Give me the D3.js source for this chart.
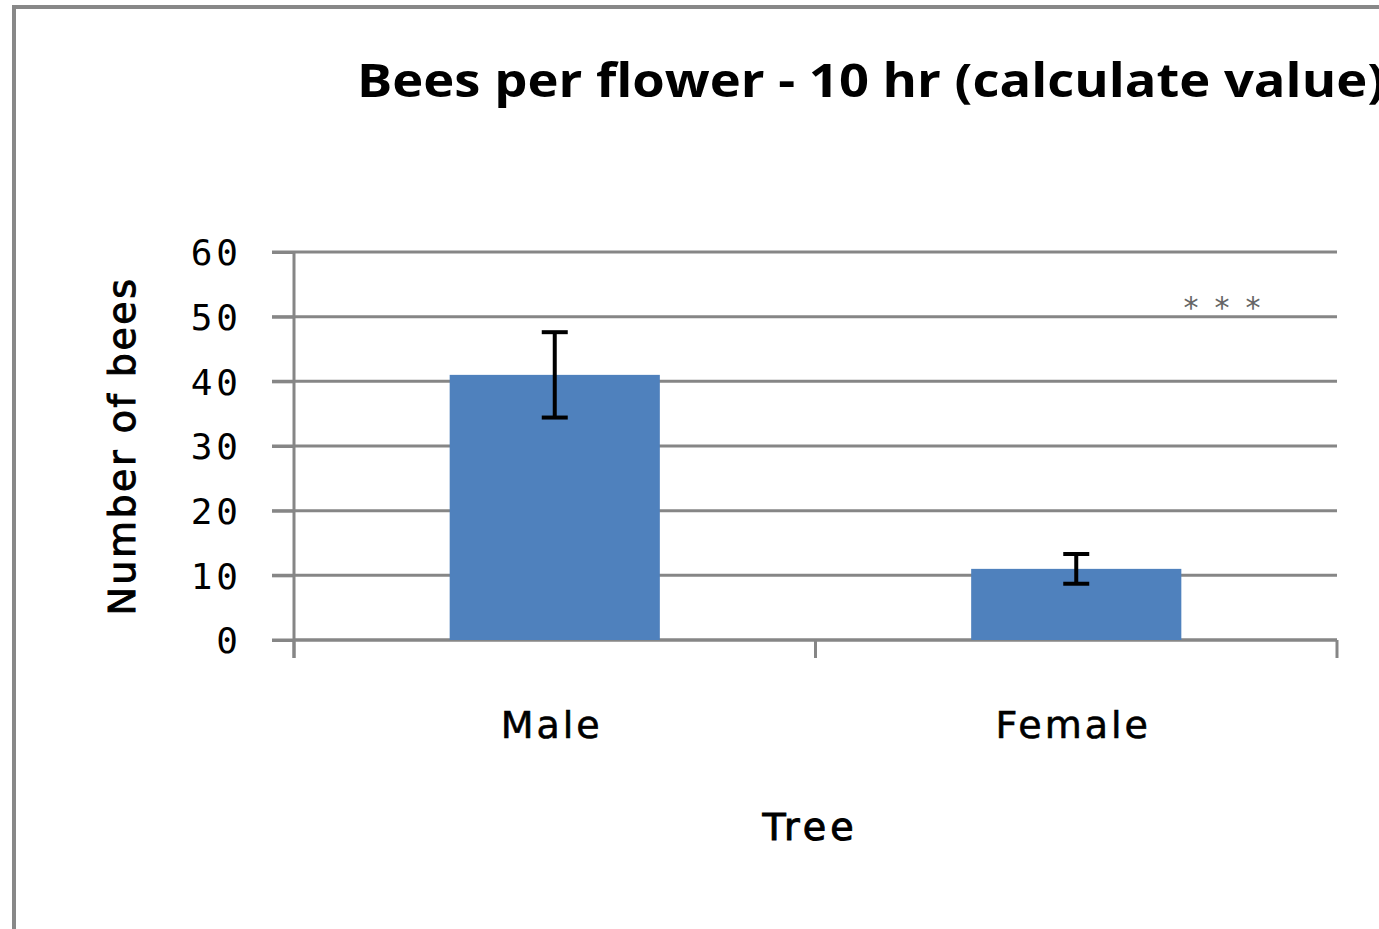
<!DOCTYPE html>
<html><head><meta charset="utf-8">
<script src="https://cdn.jsdelivr.net/npm/d3@7"></script>
<style>body{margin:0;background:#fff;} svg{display:block;}</style>
</head><body>
<svg id="chart" width="1379" height="929"></svg>
<script>
const categories = ["Male", "Female"];
const values = [41, 11];
const errors = [6.6, 2.3];
const yTicks = [0, 10, 20, 30, 40, 50, 60];
const title = "Bees per flower - 10 hr (calculate value)";
const xTitle = "Tree";
const yTitle = "Number of bees";
const annotation = "***";

(function () {
const svg = d3.select("#chart");
const W = 1379, H = 929;
svg.append("rect").attr("width", W).attr("height", H).attr("fill", "#fff");
// chart border
svg.append("rect").attr("x", 14).attr("y", 7).attr("width", W + 20).attr("height", H + 20)
  .attr("fill", "none").attr("stroke", "#888").attr("stroke-width", 4);

const pL = 294, pR = 1337, pT = 252, pB = 640;
const x = d3.scaleBand().domain(categories).range([pL, pR]).paddingInner(0.597).paddingOuter(0.2985);
const y = d3.scaleLinear().domain([0, 60]).range([pB, pT]);
const gridColor = "#868686";

// gridlines
svg.append("g").selectAll("line").data(yTicks).join("line")
  .attr("x1", pL - 22).attr("x2", pR)
  .attr("y1", d => y(d)).attr("y2", d => y(d))
  .attr("stroke", gridColor).attr("stroke-width", 3);

// y axis
const yAxis = svg.append("g").attr("transform", `translate(${pL},0)`)
  .call(d3.axisLeft(y).tickValues(yTicks).tickSize(22).tickPadding(30));
yAxis.select(".domain").attr("stroke", gridColor).attr("stroke-width", 3).attr("d", `M0,${pT}V${pB + 18}`);
yAxis.selectAll(".tick line").attr("stroke", gridColor).attr("stroke-width", 3);
yAxis.selectAll(".tick text").attr("font-family", "DejaVu Sans Mono").attr("font-size", 36)
  .attr("fill", "#000").attr("dy", "0.36em").attr("letter-spacing", 4);

// x axis
const bandEdges = [pL, ...categories.map((c, i) => pL + (i + 1) * (pR - pL) / categories.length)];
svg.append("line").attr("x1", pL).attr("x2", pR).attr("y1", pB).attr("y2", pB)
  .attr("stroke", gridColor).attr("stroke-width", 3);
svg.append("g").selectAll("line").data(bandEdges).join("line")
  .attr("x1", d => d).attr("x2", d => d).attr("y1", pB).attr("y2", pB + 18)
  .attr("stroke", gridColor).attr("stroke-width", 3);

// bars
svg.append("g").selectAll("rect").data(categories).join("rect")
  .attr("x", d => x(d)).attr("width", x.bandwidth())
  .attr("y", (d, i) => y(values[i])).attr("height", (d, i) => y(0) - y(values[i]))
  .attr("fill", "#4f81bd");

// error bars
const eb = svg.append("g").attr("stroke", "#000").attr("stroke-width", 4);
categories.forEach((c, i) => {
  const cx = x(c) + x.bandwidth() / 2;
  const y1 = y(values[i] + errors[i]), y2 = y(values[i] - errors[i]);
  eb.append("line").attr("x1", cx).attr("x2", cx).attr("y1", y1).attr("y2", y2);
  eb.append("line").attr("x1", cx - 13).attr("x2", cx + 13).attr("y1", y1).attr("y2", y1);
  eb.append("line").attr("x1", cx - 13).attr("x2", cx + 13).attr("y1", y2).attr("y2", y2);
});

// category labels
svg.append("g").selectAll("text").data(categories).join("text")
  .attr("x", d => x(d) + x.bandwidth() / 2 - 3).attr("y", 738)
  .attr("text-anchor", "middle").attr("font-family", "DejaVu Sans").attr("font-size", 38)
  .attr("letter-spacing", 3).attr("stroke", "#000").attr("stroke-width", 0.6)
  .attr("fill", "#000").text(d => d);

// axis titles
svg.append("text").attr("x", 810).attr("y", 840).attr("text-anchor", "middle")
  .attr("font-family", "DejaVu Sans").attr("font-size", 38).attr("letter-spacing", 4)
  .attr("stroke", "#000").attr("stroke-width", 1)
  .attr("fill", "#000").text(xTitle);
svg.append("text").attr("transform", "translate(135,446) rotate(-90)").attr("text-anchor", "middle")
  .attr("font-family", "DejaVu Sans").attr("font-size", 38).attr("letter-spacing", 2.5)
  .attr("stroke", "#000").attr("stroke-width", 1)
  .attr("fill", "#000").text(yTitle);

// title
svg.append("text").attr("x", 357).attr("y", 97)
  .attr("font-family", "Open Sans").attr("font-weight", "bold").attr("font-size", 46)
  .attr("textLength", 1028).attr("lengthAdjust", "spacingAndGlyphs")
  .attr("fill", "#000").text(title);

// significance annotation
svg.append("text").attr("x", 1230).attr("y", 318).attr("text-anchor", "middle")
  .attr("font-family", "DejaVu Sans").attr("font-size", 30).attr("letter-spacing", 16)
  .attr("fill", "#666").text(annotation);
})();
</script>
</body></html>
